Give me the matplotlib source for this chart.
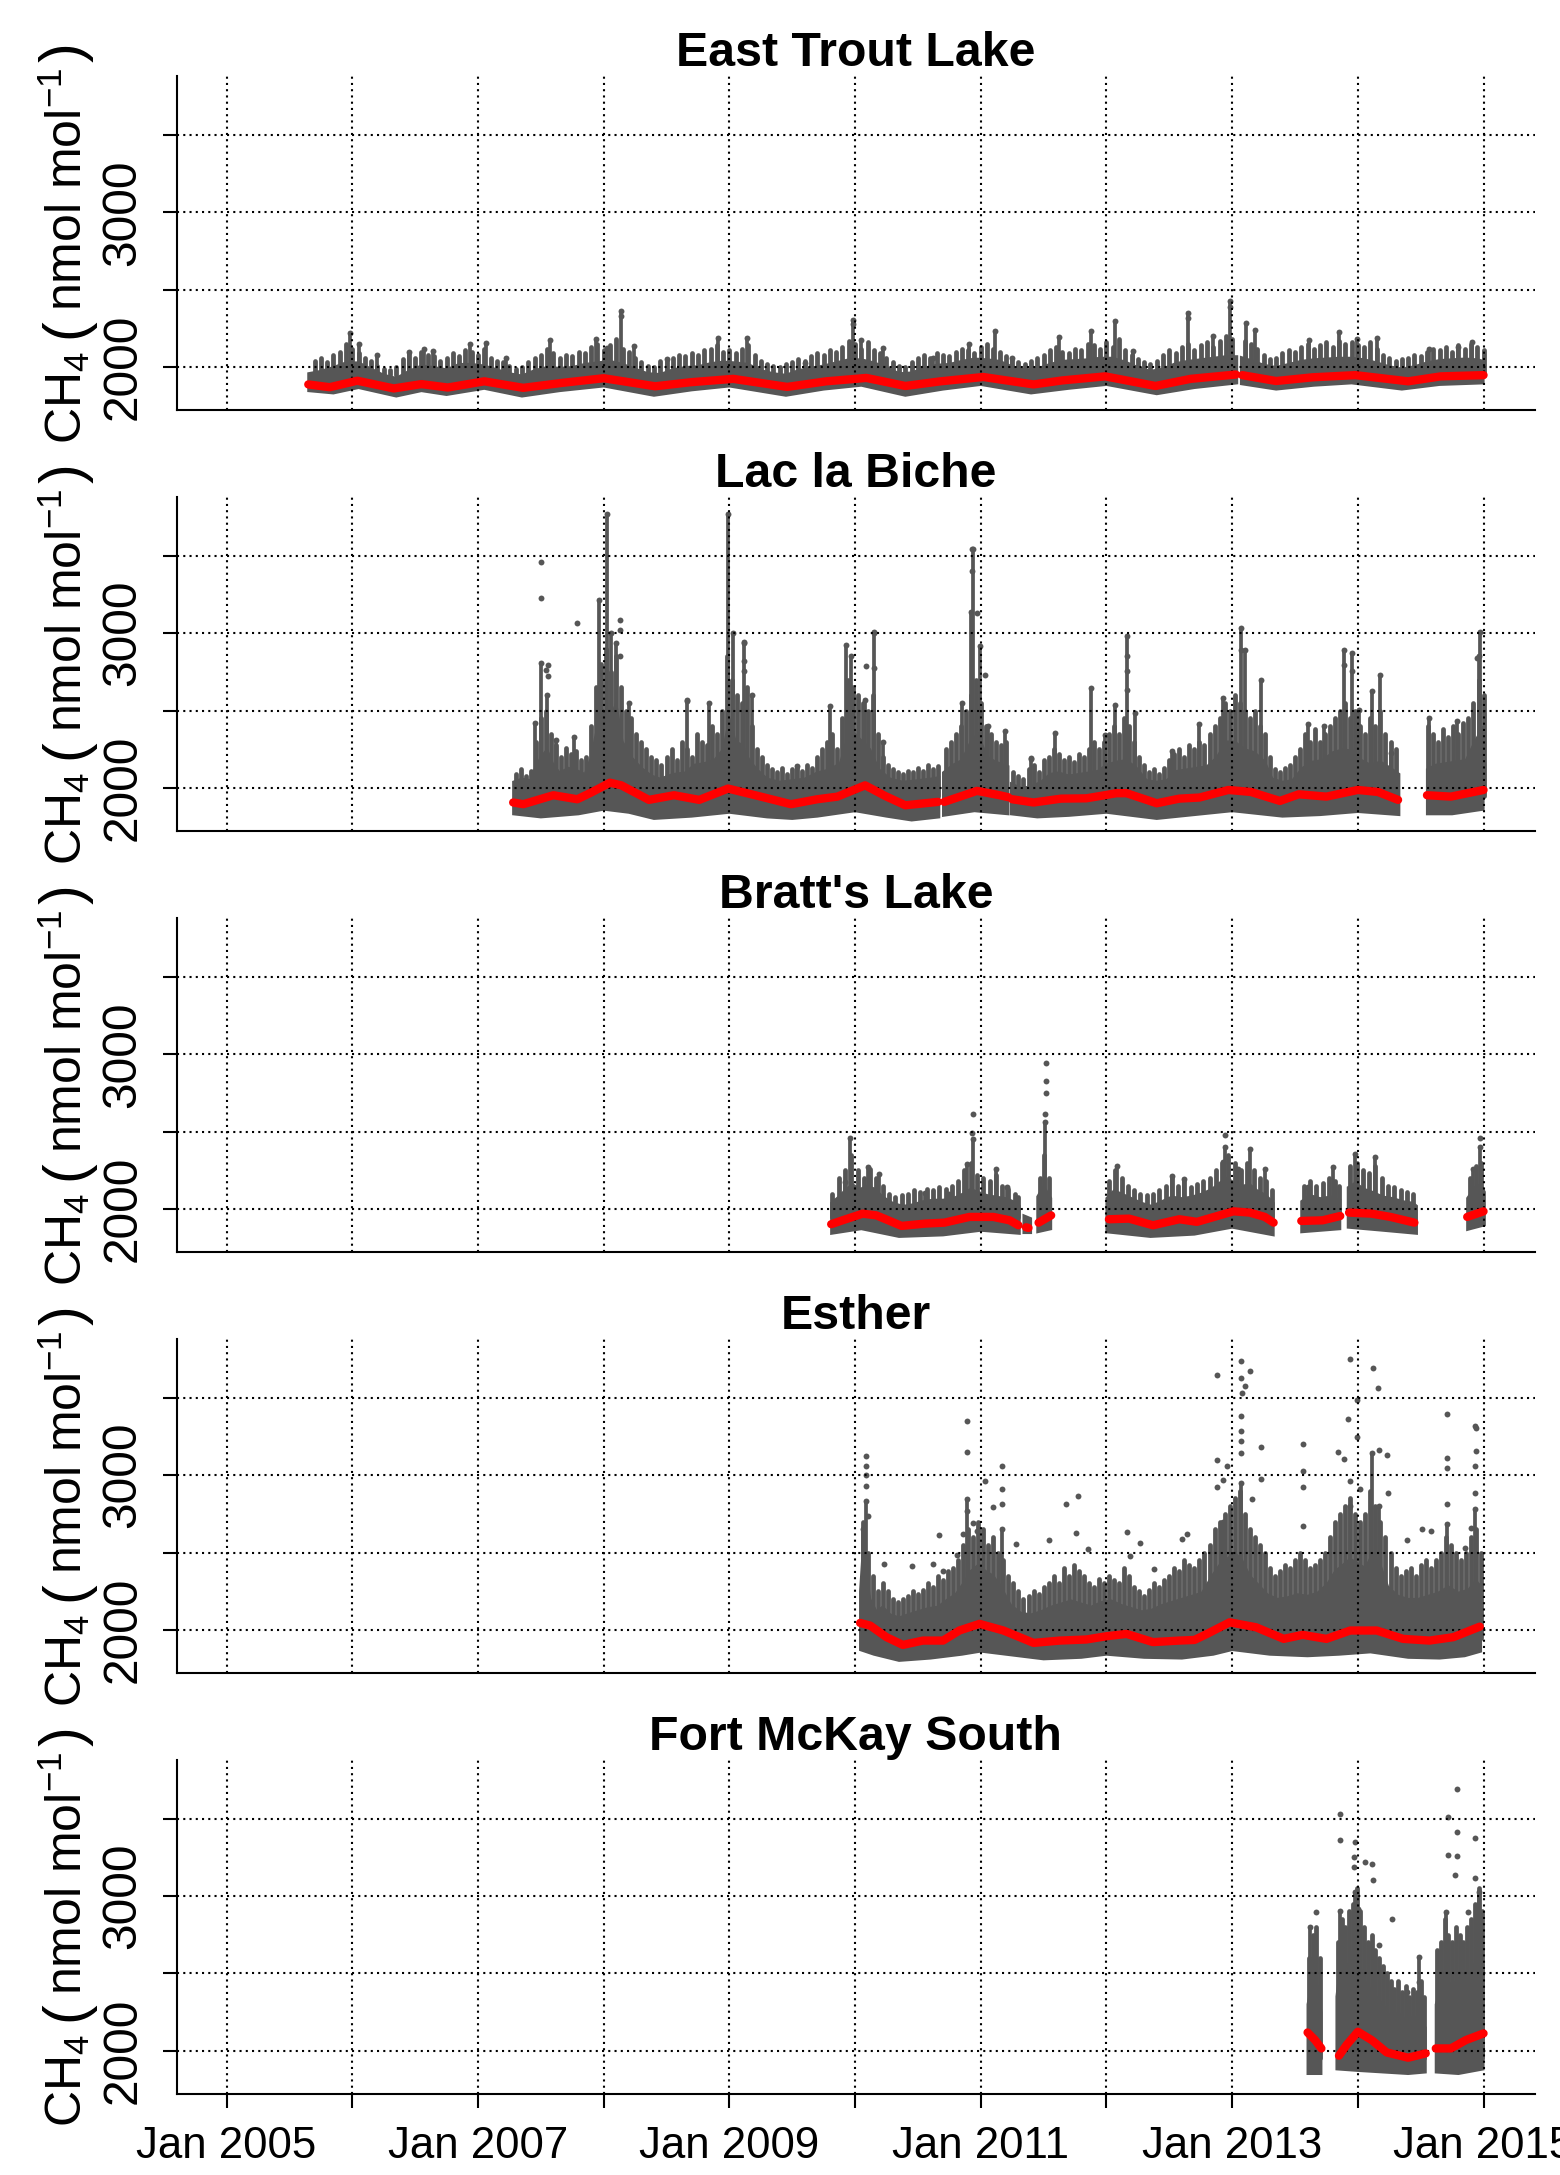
import numpy as np
import matplotlib
matplotlib.use("Agg")
import matplotlib.pyplot as plt
from matplotlib import font_manager as fm

# ---------------- data (decimal years, CH4 in nmol/mol) ----------------
titles = ["East Trout Lake", "Lac la Biche", "Bratt's Lake", "Esther", "Fort McKay South"]
xtick_years = [2005, 2006, 2007, 2008, 2009, 2010, 2011, 2012, 2013, 2014, 2015]
xtick_labels = ["Jan 2005", "", "Jan 2007", "", "Jan 2009", "", "Jan 2011", "",
                "Jan 2013", "", "Jan 2015"]
ytick_vals = [2000, 2500, 3000, 3500]
ytick_labels = ["2000", "", "3000", ""]

# ---- East Trout Lake ----
etl_fit = [(2005.65, 1888), (2005.82, 1870), (2006.04, 1912), (2006.33, 1862), (2006.55, 1890),
           (2006.76, 1868), (2007.05, 1908), (2007.36, 1866), (2007.67, 1898), (2008.00, 1928),
           (2008.41, 1876), (2008.69, 1902), (2009.03, 1924), (2009.46, 1872), (2009.77, 1908),
           (2010.09, 1930), (2010.40, 1878), (2010.68, 1908), (2011.02, 1936), (2011.42, 1888),
           (2011.65, 1914), (2011.99, 1940), (2012.39, 1878), (2012.67, 1924), (2013.03, 1952),
           None,
           (2013.08, 1948), (2013.35, 1910), (2013.64, 1934), (2013.98, 1948), (2014.40, 1908),
           (2014.66, 1940), (2015.00, 1948)]
etl_hi = [(2005.65, 1960), (2005.75, 1975), (2005.85, 2000), (2005.95, 2030), (2006.05, 2030),
          (2006.15, 1990), (2006.25, 1950), (2006.35, 1930), (2006.45, 1975), (2006.55, 2010),
          (2006.65, 2000), (2006.75, 1985), (2006.85, 2020), (2006.95, 2020), (2007.05, 2010),
          (2007.15, 1985), (2007.25, 1960), (2007.35, 1945), (2007.45, 1980), (2007.55, 2000),
          (2007.65, 1995), (2007.75, 2000), (2007.85, 2020), (2007.95, 2030), (2008.05, 2040),
          (2008.15, 2020), (2008.25, 1990), (2008.35, 1960), (2008.45, 1955), (2008.55, 1985),
          (2008.65, 2000), (2008.75, 2005), (2008.85, 2025), (2008.95, 2035), (2009.05, 2030),
          (2009.15, 2020), (2009.25, 1980), (2009.35, 1960), (2009.45, 1950), (2009.55, 1980),
          (2009.65, 1995), (2009.75, 2010), (2009.85, 2030), (2009.95, 2050), (2010.05, 2050),
          (2010.15, 2030), (2010.25, 2000), (2010.35, 1960), (2010.45, 1965), (2010.55, 1995),
          (2010.65, 2015), (2010.75, 2020), (2010.85, 2040), (2010.95, 2055), (2011.05, 2050),
          (2011.15, 2040), (2011.25, 2005), (2011.35, 1985), (2011.45, 1990), (2011.55, 2020),
          (2011.65, 2040), (2011.75, 2045), (2011.85, 2050), (2011.95, 2060), (2012.05, 2060),
          (2012.15, 2035), (2012.25, 2000), (2012.35, 1975), (2012.45, 1990), (2012.55, 2025),
          (2012.65, 2040), (2012.75, 2050), (2012.85, 2060), (2012.95, 2070), (2013.04, 2070),
          None,
          (2013.07, 2065), (2013.15, 2045), (2013.25, 2015), (2013.35, 2000), (2013.45, 2020),
          (2013.55, 2040), (2013.65, 2050), (2013.75, 2055), (2013.85, 2060), (2013.95, 2060),
          (2014.05, 2050), (2014.15, 2030), (2014.25, 2005), (2014.35, 1990), (2014.45, 2005),
          (2014.55, 2030), (2014.65, 2045), (2014.75, 2050), (2014.85, 2055), (2014.95, 2050),
          (2015.00, 2040)]
etl_lo = [(2005.65, 1845), (2005.85, 1830), (2006.05, 1865), (2006.35, 1810), (2006.55, 1845),
          (2006.75, 1820), (2007.05, 1860), (2007.35, 1810), (2007.65, 1845), (2008.00, 1875),
          (2008.40, 1815), (2008.70, 1850), (2009.00, 1875), (2009.45, 1815), (2009.75, 1855),
          (2010.05, 1880), (2010.40, 1815), (2010.70, 1855), (2011.00, 1885), (2011.40, 1830),
          (2011.70, 1860), (2012.00, 1885), (2012.40, 1825), (2012.70, 1865), (2013.04, 1895),
          None,
          (2013.07, 1890), (2013.35, 1855), (2013.65, 1880), (2013.95, 1895), (2014.35, 1855),
          (2014.65, 1885), (2015.00, 1895)]
etl_hair = [(2005.70, 2040), (2005.75, 2060), (2005.80, 2030), (2005.85, 2080), (2005.90, 2100),
            (2005.95, 2150), (2006.00, 2120), (2006.05, 2090), (2006.10, 2060), (2006.15, 2040),
            (2006.20, 2010), (2006.25, 1990), (2006.30, 1980), (2006.35, 2000), (2006.40, 2050),
            (2006.45, 2090), (2006.50, 2060), (2006.55, 2100), (2006.60, 2080), (2006.65, 2070),
            (2006.70, 2040), (2006.75, 2060), (2006.80, 2090), (2006.85, 2070), (2006.90, 2110),
            (2006.95, 2100), (2007.00, 2080), (2007.05, 2120), (2007.10, 2060), (2007.15, 2040),
            (2007.20, 2030), (2007.25, 2010), (2007.30, 1990), (2007.35, 2000), (2007.40, 2030),
            (2007.45, 2060), (2007.50, 2080), (2007.55, 2120), (2007.60, 2090), (2007.65, 2060),
            (2007.70, 2080), (2007.75, 2070), (2007.80, 2100), (2007.85, 2090), (2007.90, 2130),
            (2007.95, 2150), (2008.00, 2110), (2008.05, 2140), (2008.10, 2180), (2008.15, 2120),
            (2008.20, 2100), (2008.25, 2060), (2008.30, 2030), (2008.35, 2010), (2008.40, 2000),
            (2008.45, 2040), (2008.50, 2050), (2008.55, 2060), (2008.60, 2080), (2008.65, 2070),
            (2008.70, 2090), (2008.75, 2080), (2008.80, 2110), (2008.85, 2120), (2008.90, 2140),
            (2008.95, 2100), (2009.00, 2110), (2009.05, 2090), (2009.10, 2120), (2009.15, 2140),
            (2009.20, 2080), (2009.25, 2040), (2009.30, 2020), (2009.35, 2010), (2009.40, 2000),
            (2009.45, 2020), (2009.50, 2030), (2009.55, 2050), (2009.60, 2040), (2009.65, 2070),
            (2009.70, 2090), (2009.75, 2080), (2009.80, 2110), (2009.85, 2100), (2009.90, 2130),
            (2009.95, 2170), (2010.00, 2150), (2010.05, 2120), (2010.10, 2160), (2010.15, 2110),
            (2010.20, 2090), (2010.25, 2060), (2010.30, 2030), (2010.35, 2010), (2010.40, 2000),
            (2010.45, 2030), (2010.50, 2060), (2010.55, 2080), (2010.60, 2060), (2010.65, 2090),
            (2010.70, 2080), (2010.75, 2070), (2010.80, 2100), (2010.85, 2120), (2010.90, 2110),
            (2010.95, 2090), (2011.00, 2130), (2011.05, 2150), (2011.10, 2120), (2011.15, 2100),
            (2011.20, 2070), (2011.25, 2050), (2011.30, 2030), (2011.35, 2020), (2011.40, 2040),
            (2011.45, 2060), (2011.50, 2080), (2011.55, 2110), (2011.60, 2130), (2011.65, 2100),
            (2011.70, 2090), (2011.75, 2120), (2011.80, 2110), (2011.85, 2150), (2011.90, 2140),
            (2011.95, 2120), (2012.00, 2160), (2012.05, 2130), (2012.10, 2180), (2012.15, 2110),
            (2012.20, 2080), (2012.25, 2050), (2012.30, 2030), (2012.35, 2020), (2012.40, 2040),
            (2012.45, 2080), (2012.50, 2110), (2012.55, 2090), (2012.60, 2130), (2012.65, 2150),
            (2012.70, 2110), (2012.75, 2140), (2012.80, 2160), (2012.85, 2130), (2012.90, 2170),
            (2012.95, 2200), (2013.00, 2180), (2013.10, 2170), (2013.15, 2150), (2013.20, 2120),
            (2013.25, 2080), (2013.30, 2050), (2013.35, 2060), (2013.40, 2090), (2013.45, 2110),
            (2013.50, 2100), (2013.55, 2130), (2013.60, 2150), (2013.65, 2120), (2013.70, 2140),
            (2013.75, 2160), (2013.80, 2130), (2013.85, 2170), (2013.90, 2150), (2013.95, 2160),
            (2014.00, 2140), (2014.05, 2130), (2014.10, 2160), (2014.15, 2120), (2014.20, 2080),
            (2014.25, 2060), (2014.30, 2040), (2014.35, 2050), (2014.40, 2060), (2014.45, 2080),
            (2014.50, 2070), (2014.55, 2100), (2014.60, 2120), (2014.65, 2110), (2014.70, 2130),
            (2014.75, 2100), (2014.80, 2140), (2014.85, 2120), (2014.90, 2150), (2014.95, 2130),
            (2015.00, 2110)]
etl_spikes = [(2005.98, 2221), (2006.05, 2150), (2006.20, 2080), (2006.45, 2100), (2006.57, 2114),
              (2006.64, 2103), (2006.94, 2146), (2007.06, 2157), (2007.22, 2060), (2007.57, 2178),
              (2007.94, 2182), (2008.03, 2124), (2008.14, 2360), (2008.24, 2135), (2008.50, 2050),
              (2008.91, 2189), (2009.14, 2189), (2009.60, 2028), (2009.98, 2307), (2010.05, 2178),
              (2010.22, 2124), (2010.62, 2060), (2010.91, 2146), (2011.11, 2232), (2011.25, 2060),
              (2011.62, 2195), (2011.88, 2232), (2012.07, 2296), (2012.21, 2103), (2012.65, 2350),
              (2012.85, 2200), (2012.98, 2425), (2013.11, 2285), (2013.18, 2242), (2013.61, 2178),
              (2013.85, 2225), (2013.99, 2182), (2014.15, 2189), (2014.57, 2114), (2014.80, 2130),
              (2014.91, 2161)]
etl_points = [(2008.14, 2330), (2012.65, 2320), (2012.98, 2390), (2009.98, 2280)]

# ---- Lac la Biche ----
llb_fit = [(2007.28, 1906), (2007.36, 1895), (2007.60, 1953), (2007.79, 1927), (2007.90, 1970),
           (2008.05, 2034), (2008.14, 2017), (2008.36, 1923), (2008.56, 1953), (2008.76, 1923),
           (2008.99, 1996), (2009.25, 1944), (2009.49, 1895), (2009.70, 1927), (2009.86, 1944),
           (2010.08, 2017), (2010.24, 1948), (2010.40, 1888), (2010.66, 1910),
           None,
           (2010.71, 1910), (2010.97, 1981), (2011.15, 1953), (2011.22, 1940),
           None,
           (2011.25, 1927), (2011.42, 1906), (2011.64, 1931), (2011.84, 1933), (2012.08, 1966),
           (2012.16, 1966), (2012.40, 1901), (2012.58, 1931), (2012.74, 1938), (2012.97, 1987),
           (2013.15, 1974), (2013.38, 1916), (2013.53, 1959), (2013.75, 1944), (2014.00, 1987),
           (2014.16, 1974), (2014.32, 1923),
           None,
           (2014.55, 1953), (2014.74, 1944), (2015.00, 1987)]
llb_hi = [(2007.28, 2040), (2007.35, 2060), (2007.42, 2050), (2007.45, 2120), (2007.50, 2200),
          (2007.55, 2250), (2007.60, 2150), (2007.65, 2100), (2007.72, 2130), (2007.80, 2110),
          (2007.85, 2090), (2007.90, 2200), (2007.95, 2400), (2008.00, 2500), (2008.05, 2450),
          (2008.10, 2550), (2008.15, 2300), (2008.22, 2200), (2008.30, 2130), (2008.38, 2080),
          (2008.45, 2060), (2008.55, 2090), (2008.65, 2100), (2008.72, 2150), (2008.80, 2160),
          (2008.88, 2180), (2008.95, 2250), (2009.00, 2450), (2009.05, 2300), (2009.10, 2280),
          (2009.16, 2180), (2009.22, 2120), (2009.30, 2060), (2009.40, 2040), (2009.50, 2050),
          (2009.60, 2060), (2009.70, 2100), (2009.80, 2120), (2009.88, 2160), (2009.95, 2350),
          (2010.00, 2350), (2010.06, 2300), (2010.12, 2250), (2010.19, 2120), (2010.28, 2060),
          (2010.38, 2040), (2010.50, 2050), (2010.60, 2060), (2010.67, 2070),
          None,
          (2010.70, 2100), (2010.78, 2150), (2010.85, 2180), (2010.92, 2300), (2010.98, 2350),
          (2011.05, 2200), (2011.12, 2170), (2011.18, 2150), (2011.22, 2140),
          None,
          (2011.24, 2030), (2011.32, 2000), (2011.40, 2010), (2011.48, 2040), (2011.55, 2090),
          (2011.62, 2100), (2011.70, 2080), (2011.78, 2090), (2011.86, 2100), (2011.93, 2110),
          (2012.00, 2150), (2012.08, 2170), (2012.16, 2180), (2012.24, 2130), (2012.32, 2050),
          (2012.40, 2040), (2012.48, 2050), (2012.56, 2110), (2012.64, 2120), (2012.72, 2130),
          (2012.80, 2140), (2012.88, 2200), (2012.95, 2300), (2013.02, 2300), (2013.10, 2250),
          (2013.18, 2230), (2013.26, 2170), (2013.32, 2060), (2013.40, 2040), (2013.48, 2050),
          (2013.56, 2130), (2013.64, 2170), (2013.72, 2180), (2013.80, 2230), (2013.88, 2250),
          (2013.96, 2240), (2014.03, 2180), (2014.10, 2150), (2014.18, 2170), (2014.26, 2130),
          (2014.33, 2090),
          None,
          (2014.55, 2120), (2014.62, 2150), (2014.70, 2160), (2014.78, 2170), (2014.86, 2180),
          (2014.93, 2300), (2015.00, 2400)]
llb_lo = [(2007.28, 1830), (2007.50, 1810), (2007.80, 1830), (2008.00, 1860), (2008.20, 1840),
          (2008.40, 1800), (2008.70, 1815), (2009.00, 1840), (2009.30, 1810), (2009.50, 1800),
          (2009.70, 1815), (2010.00, 1850), (2010.25, 1815), (2010.45, 1790), (2010.67, 1810),
          None,
          (2010.70, 1820), (2010.95, 1850), (2011.22, 1830),
          None,
          (2011.24, 1830), (2011.45, 1810), (2011.70, 1820), (2012.00, 1840), (2012.40, 1800),
          (2012.70, 1825), (2013.00, 1850), (2013.40, 1815), (2013.70, 1825), (2014.00, 1845),
          (2014.33, 1825),
          None,
          (2014.55, 1830), (2014.75, 1830), (2015.00, 1860)]
llb_hair = [(2007.30, 2090), (2007.34, 2120), (2007.38, 2080), (2007.42, 2110), (2007.46, 2300),
            (2007.50, 2450), (2007.54, 2500), (2007.58, 2350), (2007.62, 2280), (2007.66, 2200),
            (2007.70, 2260), (2007.74, 2220), (2007.78, 2240), (2007.82, 2180), (2007.86, 2200),
            (2007.90, 2400), (2007.94, 2650), (2007.98, 2800), (2008.02, 2900), (2008.06, 2750),
            (2008.10, 2850), (2008.14, 2650), (2008.18, 2500), (2008.22, 2450), (2008.26, 2350),
            (2008.30, 2300), (2008.34, 2250), (2008.38, 2200), (2008.42, 2180), (2008.46, 2150),
            (2008.50, 2200), (2008.54, 2250), (2008.58, 2180), (2008.62, 2300), (2008.66, 2250),
            (2008.70, 2200), (2008.74, 2350), (2008.78, 2300), (2008.82, 2280), (2008.86, 2400),
            (2008.90, 2350), (2008.94, 2500), (2008.98, 2850), (2009.02, 2700), (2009.06, 2600),
            (2009.10, 2550), (2009.14, 2650), (2009.18, 2400), (2009.22, 2250), (2009.26, 2200),
            (2009.30, 2150), (2009.34, 2120), (2009.38, 2100), (2009.42, 2130), (2009.46, 2090),
            (2009.50, 2120), (2009.54, 2140), (2009.58, 2110), (2009.62, 2150), (2009.66, 2130),
            (2009.70, 2200), (2009.74, 2250), (2009.78, 2300), (2009.82, 2350), (2009.86, 2250),
            (2009.90, 2450), (2009.94, 2700), (2009.98, 2650), (2010.02, 2600), (2010.06, 2550),
            (2010.10, 2500), (2010.14, 2600), (2010.18, 2350), (2010.22, 2200), (2010.26, 2150),
            (2010.30, 2120), (2010.34, 2100), (2010.38, 2090), (2010.42, 2110), (2010.46, 2100),
            (2010.50, 2130), (2010.54, 2110), (2010.58, 2150), (2010.62, 2120), (2010.66, 2140),
            (2010.72, 2250), (2010.76, 2300), (2010.80, 2350), (2010.84, 2400), (2010.88, 2500),
            (2010.92, 2600), (2010.96, 2700), (2011.00, 2550), (2011.04, 2400), (2011.08, 2350),
            (2011.12, 2300), (2011.16, 2280), (2011.20, 2300),
            (2011.26, 2100), (2011.30, 2080), (2011.34, 2060), (2011.38, 2120), (2011.42, 2150),
            (2011.46, 2100), (2011.50, 2180), (2011.54, 2200), (2011.58, 2250), (2011.62, 2220),
            (2011.66, 2180), (2011.70, 2200), (2011.74, 2170), (2011.78, 2220), (2011.82, 2200),
            (2011.86, 2250), (2011.90, 2300), (2011.94, 2250), (2011.98, 2300), (2012.02, 2350),
            (2012.06, 2400), (2012.10, 2350), (2012.14, 2450), (2012.18, 2400), (2012.22, 2300),
            (2012.26, 2200), (2012.30, 2150), (2012.34, 2100), (2012.38, 2120), (2012.42, 2090),
            (2012.46, 2130), (2012.50, 2180), (2012.54, 2220), (2012.58, 2250), (2012.62, 2200),
            (2012.66, 2280), (2012.70, 2250), (2012.74, 2300), (2012.78, 2280), (2012.82, 2350),
            (2012.86, 2400), (2012.90, 2450), (2012.94, 2550), (2012.98, 2500), (2013.02, 2600),
            (2013.06, 2550), (2013.10, 2500), (2013.14, 2450), (2013.18, 2500), (2013.22, 2400),
            (2013.26, 2350), (2013.30, 2200), (2013.34, 2120), (2013.38, 2100), (2013.42, 2130),
            (2013.46, 2150), (2013.50, 2200), (2013.54, 2250), (2013.58, 2350), (2013.62, 2300),
            (2013.66, 2380), (2013.70, 2300), (2013.74, 2350), (2013.78, 2400), (2013.82, 2450),
            (2013.86, 2500), (2013.90, 2550), (2013.94, 2450), (2013.98, 2500), (2014.02, 2400),
            (2014.06, 2350), (2014.10, 2450), (2014.14, 2400), (2014.18, 2500), (2014.22, 2350),
            (2014.26, 2300), (2014.30, 2250),
            (2014.56, 2400), (2014.60, 2350), (2014.64, 2300), (2014.68, 2380), (2014.72, 2330),
            (2014.76, 2400), (2014.80, 2350), (2014.84, 2420), (2014.88, 2450), (2014.92, 2550),
            (2014.96, 2700), (2015.00, 2600)]
llb_spikes = [(2007.45, 2420), (2007.50, 2810), (2007.55, 2600), (2007.62, 2313), (2007.76, 2330),
              (2007.96, 3215), (2008.03, 3773), (2008.06, 3000), (2008.10, 2935), (2008.20, 2550),
              (2008.66, 2571), (2008.84, 2549), (2008.99, 3773), (2009.03, 3000), (2009.12, 2946),
              (2009.18, 2600), (2009.54, 2142), (2009.80, 2528), (2009.93, 2925), (2009.97, 2850),
              (2010.08, 2570), (2010.15, 3010), (2010.22, 2300), (2010.85, 2549), (2010.92, 3140),
              (2010.94, 3547), (2010.99, 2914), (2011.06, 2400), (2011.19, 2367), (2011.40, 2195),
              (2011.59, 2356), (2011.88, 2646), (2011.99, 2345), (2012.07, 2539), (2012.16, 2979),
              (2012.23, 2485), (2012.52, 2238), (2012.74, 2410), (2012.93, 2582), (2013.07, 3032),
              (2013.10, 2893), (2013.23, 2700), (2013.60, 2410), (2013.73, 2399), (2013.89, 2893),
              (2013.95, 2871), (2014.01, 2506), (2014.11, 2625), (2014.18, 2732), (2014.26, 2227),
              (2014.57, 2453), (2014.79, 2431), (2014.96, 2850), (2014.97, 3010)]
llb_points = [(2007.50, 3461), (2007.50, 3225), (2007.54, 2764), (2007.56, 2796), (2007.56, 2721),
              (2007.79, 3069), (2008.13, 3086), (2008.13, 3021), (2008.13, 2854), (2008.66, 2560),
              (2009.12, 2936), (2009.12, 2818), (2009.12, 2753), (2010.15, 3000), (2010.15, 2775),
              (2010.09, 2785), (2010.93, 3547), (2010.93, 3401), (2010.97, 3129), (2011.03, 2732),
              (2012.16, 2850), (2012.16, 2753), (2012.16, 2635), (2013.07, 2893), (2013.89, 2796),
              (2013.95, 2753), (2014.95, 2839), (2011.40, 2189)]

# ---- Bratt's Lake ----
brl_fit = [(2009.81, 1902), (2009.90, 1927), (2010.06, 1970), (2010.17, 1959), (2010.37, 1891),
           (2010.56, 1906), (2010.71, 1912), (2010.91, 1949), (2011.10, 1949), (2011.23, 1927),
           (2011.30, 1895),
           None,
           (2011.36, 1882), (2011.38, 1878),
           None,
           (2011.46, 1912), (2011.56, 1959),
           None,
           (2012.02, 1934), (2012.18, 1938), (2012.37, 1895), (2012.58, 1934), (2012.72, 1917),
           (2013.01, 1985), (2013.14, 1977), (2013.26, 1949), (2013.33, 1912),
           None,
           (2013.55, 1923), (2013.72, 1927), (2013.86, 1955),
           None,
           (2013.93, 1977), (2014.11, 1970), (2014.26, 1949), (2014.45, 1912),
           None,
           (2014.87, 1949), (2015.00, 1985)]
brl_hi = [(2009.81, 2040), (2009.87, 2080), (2009.93, 2130), (2009.98, 2160), (2010.04, 2130),
          (2010.10, 2150), (2010.16, 2130), (2010.22, 2080), (2010.30, 2040), (2010.38, 2020),
          (2010.46, 2030), (2010.54, 2050), (2010.62, 2060), (2010.70, 2060), (2010.78, 2070),
          (2010.86, 2100), (2010.92, 2130), (2010.98, 2110), (2011.05, 2090), (2011.12, 2080),
          (2011.20, 2070), (2011.26, 2050), (2011.31, 2020),
          None,
          (2011.34, 1960), (2011.40, 1940),
          None,
          (2011.45, 2080), (2011.50, 2150), (2011.56, 2070),
          None,
          (2012.00, 2070), (2012.06, 2120), (2012.12, 2100), (2012.20, 2070), (2012.28, 2040),
          (2012.36, 2020), (2012.44, 2050), (2012.52, 2080), (2012.60, 2070), (2012.68, 2080),
          (2012.76, 2100), (2012.84, 2130), (2012.90, 2170), (2012.96, 2200), (2013.02, 2170),
          (2013.08, 2150), (2013.14, 2160), (2013.20, 2120), (2013.27, 2090), (2013.33, 2040),
          None,
          (2013.55, 2050), (2013.62, 2090), (2013.70, 2070), (2013.78, 2080), (2013.86, 2060),
          None,
          (2013.92, 2140), (2013.98, 2170), (2014.05, 2130), (2014.12, 2110), (2014.20, 2080),
          (2014.28, 2070), (2014.36, 2050), (2014.44, 2040), (2014.47, 2020),
          None,
          (2014.87, 2070), (2014.93, 2140), (2014.98, 2160), (2015.01, 2110)]
brl_lo = [(2009.81, 1840), (2010.05, 1870), (2010.35, 1820), (2010.70, 1830), (2011.00, 1860),
          (2011.31, 1840),
          None,
          (2011.34, 1845), (2011.40, 1845),
          None,
          (2011.45, 1850), (2011.56, 1870),
          None,
          (2012.00, 1850), (2012.35, 1820), (2012.70, 1835), (2013.00, 1880), (2013.33, 1830),
          None,
          (2013.55, 1850), (2013.86, 1870),
          None,
          (2013.92, 1880), (2014.20, 1860), (2014.47, 1840),
          None,
          (2014.87, 1865), (2015.01, 1895)]
brl_hair = [(2009.82, 2100), (2009.87, 2200), (2009.92, 2250), (2009.97, 2350), (2010.02, 2250),
            (2010.07, 2200), (2010.12, 2260), (2010.17, 2200), (2010.22, 2150), (2010.27, 2100),
            (2010.32, 2080), (2010.37, 2090), (2010.42, 2100), (2010.47, 2120), (2010.52, 2110),
            (2010.57, 2130), (2010.62, 2120), (2010.67, 2140), (2010.72, 2130), (2010.77, 2150),
            (2010.82, 2180), (2010.87, 2250), (2010.92, 2300), (2010.97, 2220), (2011.02, 2200),
            (2011.07, 2180), (2011.12, 2220), (2011.17, 2150), (2011.22, 2130), (2011.27, 2100),
            (2011.30, 2080),
            (2011.47, 2200), (2011.50, 2350), (2011.54, 2200),
            (2012.02, 2180), (2012.07, 2250), (2012.12, 2200), (2012.17, 2150), (2012.22, 2120),
            (2012.27, 2100), (2012.32, 2090), (2012.37, 2100), (2012.42, 2120), (2012.47, 2150),
            (2012.52, 2200), (2012.57, 2150), (2012.62, 2180), (2012.67, 2140), (2012.72, 2160),
            (2012.77, 2180), (2012.82, 2200), (2012.87, 2250), (2012.92, 2300), (2012.97, 2350),
            (2013.02, 2300), (2013.07, 2250), (2013.12, 2300), (2013.17, 2250), (2013.22, 2200),
            (2013.27, 2180), (2013.32, 2120),
            (2013.57, 2150), (2013.62, 2180), (2013.67, 2150), (2013.72, 2170), (2013.77, 2200),
            (2013.82, 2180), (2013.85, 2150),
            (2013.94, 2280), (2013.99, 2300), (2014.04, 2250), (2014.09, 2230), (2014.14, 2280),
            (2014.19, 2200), (2014.24, 2150), (2014.29, 2140), (2014.34, 2120), (2014.39, 2110),
            (2014.44, 2100),
            (2014.89, 2200), (2014.94, 2280), (2014.98, 2300)]
brl_spikes = [(2009.92, 2173), (2009.96, 2462), (2010.10, 2269), (2010.19, 2227), (2010.56, 2105),
              (2010.75, 2098), (2010.89, 2291), (2010.94, 2450), (2011.12, 2259), (2011.21, 2141),
              (2011.51, 2560), (2012.08, 2280), (2012.52, 2216), (2012.62, 2194), (2012.93, 2301),
              (2012.94, 2400), (2013.05, 2259), (2013.14, 2391), (2013.26, 2257), (2013.60, 2141),
              (2013.80, 2269), (2013.98, 2355), (2014.14, 2334), (2014.92, 2257), (2014.97, 2400)]
brl_points = [(2011.52, 2942), (2011.52, 2825), (2011.52, 2750), (2011.51, 2611), (2010.94, 2611),
              (2010.93, 2494), (2012.94, 2477), (2014.97, 2462)]

# ---- Esther ----
est_fit = [(2010.04, 2045), (2010.12, 2028), (2010.25, 1953), (2010.38, 1903), (2010.54, 1931),
           (2010.70, 1931), (2010.83, 1996), (2010.99, 2039), (2011.18, 1996), (2011.42, 1916),
           (2011.63, 1931), (2011.84, 1938), (2012.00, 1959), (2012.16, 1974), (2012.37, 1921),
           (2012.58, 1931), (2012.70, 1935), (2012.80, 1974), (2012.98, 2049), (2013.19, 2017),
           (2013.41, 1942), (2013.56, 1968), (2013.75, 1942), (2013.94, 1996), (2014.15, 1996),
           (2014.36, 1942), (2014.57, 1931), (2014.76, 1953), (2014.97, 2021)]
est_hi = [(2010.04, 2250), (2010.06, 2500), (2010.09, 2400), (2010.12, 2200), (2010.17, 2120),
          (2010.22, 2150), (2010.28, 2100), (2010.35, 2080), (2010.42, 2100), (2010.50, 2120),
          (2010.58, 2140), (2010.66, 2150), (2010.74, 2200), (2010.80, 2230), (2010.86, 2300),
          (2010.92, 2380), (2010.98, 2420), (2011.04, 2380), (2011.10, 2350), (2011.16, 2280),
          (2011.24, 2160), (2011.32, 2110), (2011.40, 2100), (2011.48, 2120), (2011.56, 2150),
          (2011.64, 2170), (2011.72, 2190), (2011.80, 2170), (2011.88, 2150), (2011.96, 2180),
          (2012.04, 2190), (2012.12, 2160), (2012.20, 2140), (2012.28, 2120), (2012.36, 2130),
          (2012.44, 2160), (2012.52, 2180), (2012.60, 2200), (2012.68, 2220), (2012.76, 2240),
          (2012.84, 2350), (2012.90, 2420), (2012.96, 2460), (2013.02, 2500), (2013.08, 2450),
          (2013.14, 2350), (2013.20, 2300), (2013.28, 2230), (2013.36, 2200), (2013.44, 2210),
          (2013.52, 2230), (2013.60, 2220), (2013.68, 2240), (2013.76, 2300), (2013.82, 2380),
          (2013.88, 2420), (2013.94, 2460), (2014.00, 2430), (2014.06, 2400), (2014.12, 2500),
          (2014.18, 2420), (2014.24, 2280), (2014.32, 2220), (2014.40, 2200), (2014.48, 2200),
          (2014.56, 2220), (2014.64, 2240), (2014.72, 2280), (2014.80, 2240), (2014.88, 2260),
          (2014.94, 2320), (2014.98, 2280)]
est_lo = [(2010.04, 1870), (2010.15, 1840), (2010.35, 1800), (2010.60, 1815), (2010.85, 1840),
          (2011.00, 1860), (2011.30, 1830), (2011.50, 1810), (2011.80, 1820), (2012.00, 1840),
          (2012.30, 1820), (2012.60, 1815), (2012.85, 1840), (2013.00, 1870), (2013.30, 1840),
          (2013.60, 1830), (2013.85, 1840), (2014.10, 1855), (2014.40, 1820), (2014.65, 1815),
          (2014.85, 1830), (2014.98, 1860)]
est_hair = [(2010.06, 2700), (2010.10, 2500), (2010.14, 2350), (2010.18, 2250), (2010.22, 2300),
            (2010.26, 2250), (2010.30, 2200), (2010.34, 2180), (2010.38, 2200), (2010.42, 2220),
            (2010.46, 2250), (2010.50, 2230), (2010.54, 2260), (2010.58, 2300), (2010.62, 2280),
            (2010.66, 2350), (2010.70, 2320), (2010.74, 2380), (2010.78, 2400), (2010.82, 2450),
            (2010.86, 2550), (2010.90, 2650), (2010.94, 2600), (2010.98, 2700), (2011.02, 2650),
            (2011.06, 2550), (2011.10, 2600), (2011.14, 2500), (2011.18, 2450), (2011.22, 2350),
            (2011.26, 2300), (2011.30, 2250), (2011.34, 2200), (2011.38, 2220), (2011.42, 2250),
            (2011.46, 2230), (2011.50, 2280), (2011.54, 2300), (2011.58, 2350), (2011.62, 2300),
            (2011.66, 2400), (2011.70, 2350), (2011.74, 2420), (2011.78, 2380), (2011.82, 2350),
            (2011.86, 2300), (2011.90, 2280), (2011.94, 2330), (2011.98, 2300), (2012.02, 2350),
            (2012.06, 2320), (2012.10, 2300), (2012.14, 2400), (2012.18, 2350), (2012.22, 2280),
            (2012.26, 2250), (2012.30, 2220), (2012.34, 2260), (2012.38, 2300), (2012.42, 2280),
            (2012.46, 2320), (2012.50, 2350), (2012.54, 2400), (2012.58, 2380), (2012.62, 2450),
            (2012.66, 2420), (2012.70, 2400), (2012.74, 2450), (2012.78, 2500), (2012.82, 2550),
            (2012.86, 2650), (2012.90, 2700), (2012.94, 2750), (2012.98, 2800), (2013.02, 2850),
            (2013.06, 2900), (2013.10, 2750), (2013.14, 2650), (2013.18, 2600), (2013.22, 2550),
            (2013.26, 2500), (2013.30, 2400), (2013.34, 2350), (2013.38, 2380), (2013.42, 2420),
            (2013.46, 2400), (2013.50, 2450), (2013.54, 2500), (2013.58, 2450), (2013.62, 2400),
            (2013.66, 2420), (2013.70, 2450), (2013.74, 2500), (2013.78, 2600), (2013.82, 2700),
            (2013.86, 2750), (2013.90, 2800), (2013.94, 2850), (2013.98, 2750), (2014.02, 2700),
            (2014.06, 2750), (2014.10, 2900), (2014.14, 2800), (2014.18, 2700), (2014.22, 2600),
            (2014.26, 2500), (2014.30, 2400), (2014.34, 2350), (2014.38, 2380), (2014.42, 2400),
            (2014.46, 2350), (2014.50, 2420), (2014.54, 2450), (2014.58, 2400), (2014.62, 2450),
            (2014.66, 2500), (2014.70, 2600), (2014.74, 2550), (2014.78, 2500), (2014.82, 2450),
            (2014.86, 2500), (2014.90, 2600), (2014.94, 2650), (2014.98, 2500)]
est_spikes = [(2010.06, 2650), (2010.085, 2833), (2010.89, 2843), (2011.17, 2650), (2012.93, 2700),
              (2013.07, 2951), (2013.94, 2800), (2014.11, 3144), (2014.17, 2800), (2014.71, 2687),
              (2014.93, 2779)]
est_points = [(2010.085, 3122), (2010.085, 3062), (2010.085, 3000), (2010.085, 2929), (2010.10, 2736),
              (2010.23, 2425), (2010.45, 2414), (2010.62, 2425), (2010.67, 2614), (2010.70, 2382),
              (2010.81, 2483), (2010.86, 2618), (2010.89, 3348), (2010.89, 3148), (2010.89, 2768),
              (2010.94, 2693), (2010.97, 2640), (2011.03, 2961), (2011.10, 2796), (2011.17, 3058),
              (2011.17, 2908), (2011.17, 2811), (2011.28, 2558), (2011.54, 2582), (2011.68, 2811),
              (2011.77, 2865), (2011.76, 2624), (2011.85, 2521), (2012.16, 2633), (2012.27, 2564),
              (2012.19, 2478), (2012.38, 2393), (2012.60, 2586), (2012.64, 2618), (2012.88, 3648),
              (2012.88, 3097), (2012.88, 2923), (2012.93, 2968), (2012.96, 3058), (2013.07, 3740),
              (2013.07, 3626), (2013.08, 3530), (2013.10, 3573), (2013.14, 3676), (2013.07, 3384),
              (2013.07, 3283), (2013.07, 3219), (2013.07, 3140), (2013.23, 3180), (2013.23, 2976),
              (2013.16, 2843), (2013.56, 3204), (2013.56, 3026), (2013.56, 2923), (2013.56, 2672),
              (2013.84, 3148), (2013.89, 3105), (2013.94, 3749), (2013.92, 3365), (2013.99, 3487),
              (2013.99, 3245), (2013.94, 2961), (2014.02, 2908), (2014.12, 3695), (2014.16, 3562),
              (2014.17, 3165), (2014.23, 3129), (2014.24, 2886), (2014.39, 2579), (2014.51, 2650),
              (2014.58, 2640), (2014.71, 3397), (2014.71, 3112), (2014.71, 3043), (2014.71, 2815),
              (2014.85, 2532), (2014.93, 3315), (2014.94, 3305), (2014.94, 3155), (2014.93, 3058),
              (2014.93, 2882), (2014.90, 2661)]

# ---- Fort McKay South ----
fms_fit = [(2013.60, 2118), (2013.66, 2069), (2013.71, 2015),
           None,
           (2013.85, 1968), (2013.91, 2037), (2014.00, 2123), (2014.11, 2069), (2014.23, 1989),
           (2014.40, 1955), (2014.54, 1983),
           None,
           (2014.62, 2015), (2014.74, 2015), (2014.86, 2069), (2015.00, 2112)]
fms_hi = [(2013.60, 2300), (2013.63, 2420), (2013.66, 2500), (2013.69, 2380), (2013.71, 2250),
          None,
          (2013.83, 2350), (2013.86, 2550), (2013.90, 2500), (2013.94, 2600), (2013.98, 2700),
          (2014.02, 2550), (2014.06, 2450), (2014.10, 2400), (2014.15, 2350), (2014.20, 2300),
          (2014.26, 2220), (2014.32, 2250), (2014.38, 2200), (2014.44, 2220), (2014.50, 2200),
          (2014.54, 2150),
          None,
          (2014.62, 2300), (2014.66, 2400), (2014.70, 2550), (2014.74, 2400), (2014.78, 2450),
          (2014.82, 2480), (2014.86, 2500), (2014.90, 2480), (2014.94, 2600), (2014.97, 2700),
          (2015.00, 2550)]
fms_lo = [(2013.60, 1850), (2013.71, 1850),
          None,
          (2013.83, 1880), (2014.00, 1870), (2014.20, 1860), (2014.40, 1850), (2014.54, 1860),
          None,
          (2014.62, 1860), (2014.80, 1850), (2015.00, 1880)]
fms_hair = [(2013.61, 2600), (2013.64, 2750), (2013.67, 2800), (2013.70, 2600),
            (2013.84, 2700), (2013.87, 2850), (2013.90, 2800), (2013.93, 2900), (2013.96, 2950),
            (2013.99, 3050), (2014.02, 2900), (2014.05, 2800), (2014.08, 2700), (2014.11, 2750),
            (2014.14, 2650), (2014.17, 2600), (2014.20, 2550), (2014.23, 2500), (2014.26, 2450),
            (2014.29, 2400), (2014.32, 2450), (2014.35, 2380), (2014.38, 2420), (2014.41, 2350),
            (2014.44, 2400), (2014.47, 2380), (2014.50, 2450), (2014.53, 2350),
            (2014.63, 2650), (2014.66, 2700), (2014.69, 2850), (2014.72, 2750), (2014.75, 2700),
            (2014.78, 2800), (2014.81, 2750), (2014.84, 2700), (2014.87, 2800), (2014.90, 2850),
            (2014.93, 2950), (2014.96, 3050), (2014.99, 2900)]
fms_spikes = [(2013.62, 2800), (2013.86, 2900), (2013.98, 3026), (2014.00, 2919), (2014.49, 2607),
              (2014.70, 2897), (2014.96, 3026)]
fms_points = [(2013.67, 2897), (2013.86, 3532), (2013.86, 3360), (2013.98, 3349), (2013.97, 3252),
              (2013.97, 3188), (2014.06, 3220), (2014.11, 3209), (2014.12, 3102), (2014.27, 2854),
              (2014.17, 2682), (2014.49, 2445), (2014.39, 2381), (2014.79, 3694), (2014.72, 3511),
              (2014.79, 3414), (2014.93, 3377), (2014.72, 3263), (2014.79, 3257), (2014.77, 3134),
              (2014.93, 3117), (2014.88, 2897)]

stations = [
    dict(fit=etl_fit, hi=etl_hi, lo=etl_lo, hair=etl_hair, spikes=etl_spikes, points=etl_points),
    dict(fit=llb_fit, hi=llb_hi, lo=llb_lo, hair=llb_hair, spikes=llb_spikes, points=llb_points),
    dict(fit=brl_fit, hi=brl_hi, lo=brl_lo, hair=brl_hair, spikes=brl_spikes, points=brl_points),
    dict(fit=est_fit, hi=est_hi, lo=est_lo, hair=est_hair, spikes=est_spikes, points=est_points),
    dict(fit=fms_fit, hi=fms_hi, lo=fms_lo, hair=fms_hair, spikes=fms_spikes, points=fms_points),
]

# ---------------- fonts ----------------
def font_ok(name):
    try:
        fm.findfont(fm.FontProperties(family=name), fallback_to_default=False)
        return True
    except Exception:
        return False

REG = "Liberation Sans" if font_ok("Liberation Sans") else "DejaVu Sans"
NARROW = "Liberation Sans Narrow" if font_ok("Liberation Sans Narrow") else REG
TITLE_FS = 25 if NARROW != REG else 23.2
XT_FS = 24 if NARROW != REG else 21

plt.rcParams["font.family"] = [REG, "DejaVu Sans"]
plt.rcParams["mathtext.fontset"] = "custom"
plt.rcParams["mathtext.rm"] = REG
plt.rcParams["mathtext.it"] = REG + ":italic"
plt.rcParams["mathtext.bf"] = REG + ":bold"


def split_pairs(pairs):
    segs, cur = [], []
    for p in pairs:
        if p is None:
            segs.append(cur)
            cur = []
        else:
            cur.append(p)
    segs.append(cur)
    return [np.array(s, dtype=float) for s in segs if len(s)]


GRAY = "#565656"
fig = plt.figure(figsize=(10.4, 14.5), dpi=150)
left, width, height = 0.1135, 0.8702, 0.1537
bottoms = [0.8113, 0.6178, 0.4242, 0.2307, 0.0372]
LABEL_X = -0.070  # baseline of the rotated y label, axes coords
label_sets = []

for i, (st, title) in enumerate(zip(stations, titles)):
    ax = fig.add_axes([left, bottoms[i], width, height])
    # dense core of the hourly cloud
    for top, low in zip(split_pairs(st["hi"]), split_pairs(st["lo"])):
        xs = np.concatenate([top[:, 0], low[::-1, 0]])
        ys = np.concatenate([top[:, 1], low[::-1, 1]])
        ax.fill(xs, ys, facecolor=GRAY, edgecolor=GRAY, linewidth=1.0, zorder=1)
    # hairy upper part of the cloud
    hr = np.array(st["hair"], dtype=float)
    ax.vlines(hr[:, 0], 1950, hr[:, 1], color=GRAY, linewidth=2.3, zorder=1.1,
              capstyle="round")
    sp = np.array(st["spikes"], dtype=float)
    ax.vlines(sp[:, 0], 1950, sp[:, 1], color=GRAY, linewidth=1.8, zorder=1.2,
              capstyle="round")
    ax.scatter(sp[:, 0], sp[:, 1], s=8, color=GRAY, linewidths=0, zorder=1.3)
    pt = np.array(st["points"], dtype=float)
    ax.scatter(pt[:, 0], pt[:, 1], s=8, color=GRAY, linewidths=0, zorder=1.3)
    # smooth fit
    for seg in split_pairs(st["fit"]):
        ax.plot(seg[:, 0], seg[:, 1], color="#FF0000", linewidth=4.0,
                solid_capstyle="round", solid_joinstyle="round", zorder=3)

    ax.set_xlim(2004.606, 2015.406)
    ax.set_ylim(1720, 3880)
    for s in ["top", "right"]:
        ax.spines[s].set_visible(False)
    for s in ["left", "bottom"]:
        ax.spines[s].set_linewidth(1.0)
        ax.spines[s].set_color("black")

    ax.set_xticks(xtick_years)
    ax.set_yticks(ytick_vals)
    ax.set_yticklabels(ytick_labels, rotation=90, va="center", fontsize=23)
    ax.tick_params(axis="y", length=6.7, width=1.0, direction="out", pad=8.6)
    if i == len(titles) - 1:
        ax.set_xticklabels(xtick_labels, family=NARROW, fontsize=XT_FS)
        ax.tick_params(axis="x", length=6.7, width=1.0, direction="out", pad=8.5)
    else:
        ax.tick_params(axis="x", length=0, labelbottom=False)

    ax.grid(True, color="black", linestyle=(0, (1, 2)), linewidth=1.0)
    ax.set_axisbelow(False)

    ax.set_title(title, fontsize=TITLE_FS, fontweight="bold", family=NARROW, pad=4.6)

    # y label built from pieces so the parentheses can be large
    pieces = [("CH$_4$", 24), ("(", 28.5), ("nmol mol$^{-1}$", 24), (")", 28.5)]
    txts = [ax.text(LABEL_X, 0.5, s, transform=ax.transAxes, rotation=90,
                    rotation_mode="anchor", ha="left", va="baseline", fontsize=fs)
            for s, fs in pieces]
    label_sets.append((ax, txts))

# place the y-label pieces one after another, centred on each panel
fig.canvas.draw()
renderer = fig.canvas.get_renderer()
gaps = [13, 7, 5]
for ax, txts in label_sets:
    box = ax.get_window_extent(renderer)
    lens = [t.get_window_extent(renderer).height for t in txts]
    total = sum(lens) + sum(gaps)
    y = box.y0 + box.height / 2 - total / 2
    for k, t in enumerate(txts):
        t.set_position((LABEL_X, (y - box.y0) / box.height))
        y += lens[k] + (gaps[k] if k < len(gaps) else 0)

fig.savefig("out.png", dpi=150)
